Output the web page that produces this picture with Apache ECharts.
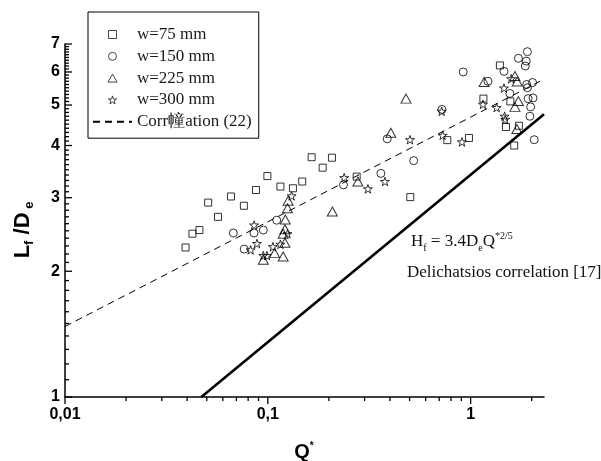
<!DOCTYPE html>
<html>
<head>
<meta charset="utf-8">
<script src="https://cdn.jsdelivr.net/npm/echarts@6/dist/echarts.min.js"></script>
<style>
  html, body { margin: 0; padding: 0; background: #fff; }
  #chart { width: 601px; height: 461px; }
</style>
</head>
<body>
<div id="chart"></div>
<script>
// Measured flame length ratio L_f/D_e against dimensionless heat release Q*
const w75 = [
  [0.0393, 2.28], [0.0425, 2.46], [0.046, 2.51], [0.0508, 2.92], [0.0568, 2.70],
  [0.0658, 3.02], [0.0762, 2.87], [0.0874, 3.13], [0.0995, 3.38], [0.1154, 3.19],
  [0.133, 3.16], [0.1478, 3.28], [0.1645, 3.75], [0.1864, 3.54], [0.2071, 3.74],
  [0.2742, 3.37], [0.504, 3.01], [0.767, 4.12], [0.981, 4.17], [1.156, 5.18],
  [1.394, 6.22], [1.57, 5.10], [1.493, 4.43], [1.73, 4.46], [1.64, 4.00]
];
const w150 = [
  [0.0676, 2.47], [0.0765, 2.26], [0.0855, 2.47], [0.095, 2.51], [0.1106, 2.65],
  [0.236, 3.22], [0.361, 3.43], [0.388, 4.15], [0.524, 3.68], [0.722, 4.88],
  [0.919, 6.00], [1.217, 5.70], [1.46, 6.02], [1.56, 5.33], [1.72, 6.47],
  [1.905, 6.71], [1.88, 6.37], [1.86, 6.20], [1.89, 5.60], [2.02, 5.66],
  [1.905, 5.50], [1.92, 5.18], [2.03, 5.20], [1.976, 4.95], [1.96, 4.70],
  [2.058, 4.13]
];
const w225 = [
  [0.095, 2.13], [0.108, 2.21], [0.119, 2.17], [0.1215, 2.34], [0.119, 2.46],
  [0.1215, 2.52], [0.122, 2.66], [0.125, 2.83], [0.126, 2.95], [0.208, 2.78],
  [0.278, 3.28], [0.404, 4.29], [0.48, 5.18], [1.166, 5.68], [1.654, 5.87],
  [1.697, 5.69], [1.72, 5.11], [1.654, 4.95], [1.69, 4.38]
];
const w300 = [
  [0.0856, 2.58], [0.0884, 2.33], [0.0823, 2.25], [0.095, 2.18], [0.099, 2.18],
  [0.106, 2.29], [0.1154, 2.32], [0.125, 2.46], [0.131, 3.03], [0.238, 3.35],
  [0.3116, 3.15], [0.378, 3.28], [0.502, 4.13], [0.72, 4.83], [0.728, 4.23],
  [0.906, 4.08], [1.15, 5.02], [1.343, 4.93], [1.46, 5.49], [1.47, 4.70],
  [1.48, 4.62], [1.585, 5.78]
];
// Correlation (22), dashed
const corr22 = [[0.01, 1.475], [2.2, 5.70]];
// Delichatsios correlation, solid
const delichatsios = [[0.047, 1.0], [2.3, 4.75]];

const seriesNames = ['w=75 mm', 'w=150 mm', 'w=225 mm', 'w=300 mm', 'Corr幢ation (22)'];

// Axis ticks
const X_MIN = 0.01, X_MAX = 2.3, Y_MIN = 1, Y_MAX = 7;
const xMajorTicks = [0.01, 0.1, 1];
const xMajorLabels = ['0,01', '0,1', '1'];
const xMinorTicks = [0.02, 0.03, 0.04, 0.05, 0.06, 0.07, 0.08, 0.09,
                     0.2, 0.3, 0.4, 0.5, 0.6, 0.7, 0.8, 0.9, 2];
const yMajorTicks = [1, 2, 3, 4, 5, 6, 7];
const yMajorLabels = ['1', '2', '3', '4', '5', '6', '7'];
const yMinorTicks = [
  1.1, 1.2, 1.3, 1.4, 1.5, 1.6, 1.7, 1.8, 1.9,
  2.1, 2.2, 2.3, 2.4, 2.5, 2.6, 2.7, 2.8, 2.9,
  3.1, 3.2, 3.3, 3.4, 3.5, 3.6, 3.7, 3.8, 3.9,
  4.1, 4.2, 4.3, 4.4, 4.5, 4.6, 4.7, 4.8, 4.9,
  5.1, 5.2, 5.3, 5.4, 5.5, 5.6, 5.7, 5.8, 5.9,
  6.1, 6.2, 6.3, 6.4, 6.5, 6.6, 6.7, 6.8, 6.9
];

const SANS = '"Liberation Sans", Arial, sans-serif';
const SERIF = '"Liberation Serif", "Times New Roman", serif';

// Outline marker shapes (paths keep their aspect ratio in the legend too)
const SQUARE = 'path://M0,0 L100,0 L100,100 L0,100 Z';
const CIRCLE = 'path://M50,0 A50,50 0 1,1 50,100 A50,50 0 1,1 50,0 Z';
const TRIANGLE = 'path://M50,0 L100,88 L0,88 Z';
const STAR = 'path://M50,2 L61,36 L97,36 L68,57 L79,92 L50,71 L21,92 L32,57 L3,36 L39,36 Z';

const hollow = { color: 'rgba(0,0,0,0)', borderColor: '#000', borderWidth: 1 };

function xTicks(values, len, labels) {
  return {
    type: 'custom', silent: true, z: 10, clip: false,
    data: values.map(v => [v, Y_MIN]),
    renderItem: function (params, api) {
      const p = api.coord([api.value(0), Y_MIN]);
      const children = [{
        type: 'line',
        shape: { x1: p[0], y1: p[1], x2: p[0], y2: p[1] + len },
        style: { stroke: '#000', lineWidth: 1.3 }
      }];
      if (labels) {
        children.push({
          type: 'text', x: p[0], y: p[1] + 10,
          style: {
            text: labels[params.dataIndex], align: 'center', verticalAlign: 'top',
            font: 'bold 16px ' + SANS, fill: '#000'
          }
        });
      }
      return { type: 'group', children: children };
    }
  };
}

function yTicks(values, len, labels) {
  return {
    type: 'custom', silent: true, z: 10, clip: false,
    data: values.map(v => [X_MIN, v]),
    renderItem: function (params, api) {
      const p = api.coord([X_MIN, api.value(1)]);
      const children = [{
        type: 'line',
        shape: { x1: p[0], y1: p[1], x2: p[0] + len, y2: p[1] },
        style: { stroke: '#000', lineWidth: 1.3 }
      }];
      if (labels) {
        children.push({
          type: 'text', x: p[0] - 5, y: p[1],
          style: {
            text: labels[params.dataIndex], align: 'right', verticalAlign: 'middle',
            font: 'bold 16px ' + SANS, fill: '#000'
          }
        });
      }
      return { type: 'group', children: children };
    }
  };
}

const chart = echarts.init(document.getElementById('chart'), null, { renderer: 'canvas' });

chart.setOption({
  animation: false,
  backgroundColor: '#fff',
  grid: { left: 65, top: 44, width: 479, height: 353, containLabel: false },
  xAxis: {
    type: 'log', logBase: 10, min: X_MIN, max: X_MAX,
    axisLine: { show: true, lineStyle: { color: '#000', width: 1.5 } },
    axisTick: { show: false }, axisLabel: { show: false },
    splitLine: { show: false }, minorTick: { show: false }
  },
  yAxis: {
    type: 'log', logBase: 10, min: Y_MIN, max: Y_MAX,
    axisLine: { show: true, lineStyle: { color: '#000', width: 1.5 } },
    axisTick: { show: false }, axisLabel: { show: false },
    splitLine: { show: false }, minorTick: { show: false }
  },
  legend: {
    orient: 'vertical', left: 88, top: 12,
    padding: [14, 7, 8, 4],
    borderColor: '#000', borderWidth: 1,
    itemWidth: 39, itemHeight: 8, itemGap: 4.8,
    symbolKeepAspect: true,
    itemStyle: { color: 'rgba(0,0,0,0)', borderColor: '#000', borderWidth: 0.9 },
    textStyle: { fontFamily: SERIF, fontSize: 17, lineHeight: 17, color: '#1a1a1a' },
    data: [
      seriesNames[0], seriesNames[1], seriesNames[2], seriesNames[3],
      { name: seriesNames[4], itemStyle: { color: 'rgba(0,0,0,0)', borderColor: 'rgba(0,0,0,0)', borderWidth: 0 } }
    ]
  },
  series: [
    {
      name: 'Delichatsios', type: 'line', data: delichatsios, symbol: 'none',
      lineStyle: { color: '#000', width: 2.6 }, z: 2
    },
    {
      name: seriesNames[4], type: 'line', data: corr22, symbol: 'none',
      lineStyle: { color: '#000', width: 1, type: [7, 5] },
      itemStyle: { color: '#000' }, z: 2
    },
    { name: seriesNames[0], type: 'scatter', data: w75, symbol: SQUARE, symbolSize: 7, symbolKeepAspect: true, itemStyle: hollow, z: 3 },
    { name: seriesNames[1], type: 'scatter', data: w150, symbol: CIRCLE, symbolSize: 8, symbolKeepAspect: true, itemStyle: hollow, z: 3 },
    { name: seriesNames[2], type: 'scatter', data: w225, symbol: TRIANGLE, symbolSize: [10, 9], itemStyle: hollow, z: 3 },
    { name: seriesNames[3], type: 'scatter', data: w300, symbol: STAR, symbolSize: 9, symbolKeepAspect: true, itemStyle: hollow, z: 3 },
    xTicks(xMajorTicks, 7, xMajorLabels),
    xTicks(xMinorTicks, 4, null),
    yTicks(yMajorTicks, 7, yMajorLabels),
    yTicks(yMinorTicks, 4, null)
  ],
  graphic: [
    {
      type: 'text', x: 411, y: 231,
      style: {
        text: '{a|H}{s|f}{a| = 3.4D}{s|e}{a|Q}{p|*2/5}',
        rich: {
          a: { fontFamily: SERIF, fontSize: 17, lineHeight: 22, fill: '#111', verticalAlign: 'middle' },
          s: { fontFamily: SERIF, fontSize: 10, lineHeight: 10, fill: '#111', verticalAlign: 'bottom' },
          p: { fontFamily: SERIF, fontSize: 10, lineHeight: 10, fill: '#111', verticalAlign: 'top' }
        }
      }
    },
    {
      type: 'text', x: 407, y: 264,
      style: { text: 'Delichatsios correlation [17]', font: '17px ' + SERIF, fill: '#111' }
    },
    {
      type: 'text', x: 304, y: 452,
      style: {
        text: '{a|Q}{p|*}', align: 'center', verticalAlign: 'middle',
        rich: {
          a: { fontFamily: SANS, fontWeight: 'bold', fontSize: 20, lineHeight: 22, fill: '#000', verticalAlign: 'middle' },
          p: { fontFamily: SANS, fontWeight: 'bold', fontSize: 10, lineHeight: 10, fill: '#000', verticalAlign: 'top' }
        }
      }
    },
    {
      type: 'text', x: 23, y: 230, rotation: Math.PI / 2,
      style: {
        text: '{a|L}{s|f}{a| /D}{s| e}', align: 'center', verticalAlign: 'middle',
        rich: {
          a: { fontFamily: SANS, fontWeight: 'bold', fontSize: 22, lineHeight: 26, fill: '#000', verticalAlign: 'middle' },
          s: { fontFamily: SANS, fontWeight: 'bold', fontSize: 13, lineHeight: 13, fill: '#000', verticalAlign: 'bottom' }
        }
      }
    }
  ]
});
</script>
</body>
</html>
